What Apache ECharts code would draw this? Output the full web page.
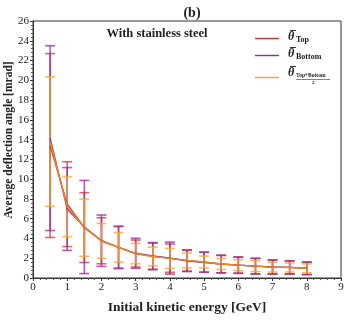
<!DOCTYPE html>
<html>
<head>
<meta charset="utf-8">
<script src="https://cdn.jsdelivr.net/npm/echarts@6/dist/echarts.min.js"></script>
<style>
  html, body { margin: 0; padding: 0; background: #fff; }
  #main { width: 349px; height: 320px; }
</style>
</head>
<body>
<div id="main"></div>
<script>
var energy = [0.5, 1, 1.5, 2, 2.5, 3, 3.5, 4, 4.5, 5, 5.5, 6, 6.5, 7, 7.5, 8]

var topMean = [13.4, 7.47, 5.1, 3.77, 3.1, 2.47, 2.2, 2.01, 1.75, 1.6, 1.42, 1.3, 1.2, 1.12, 1.07, 0.98]
var topErr = [9.3, 4.29, 3.53, 2.33, 2.1, 1.37, 1.33, 1.43, 1.05, 1.0, 0.9, 0.8, 0.78, 0.7, 0.65, 0.62]

var bottomMean = [14.15, 6.98, 5.16, 3.77, 3.1, 2.5, 2.22, 2.01, 1.75, 1.6, 1.4, 1.3, 1.2, 1.1, 1.07, 0.98]
var bottomErr = [9.35, 4.19, 4.71, 2.6, 2.15, 1.52, 1.37, 1.62, 1.1, 1.02, 0.88, 0.84, 0.8, 0.72, 0.68, 0.64]

var avgMean = [13.8, 7.22, 5.09, 3.76, 3.11, 2.47, 2.18, 1.98, 1.78, 1.62, 1.42, 1.3, 1.2, 1.1, 1.06, 0.98]
var avgErr = [6.55, 3.03, 2.89, 1.76, 1.49, 1.03, 0.94, 1.01, 0.75, 0.6, 0.55, 0.55, 0.55, 0.5, 0.45, 0.45]

var serif = 'Liberation Serif'
var cTop = '#d03535'
var cBottom = '#982a98'
var cAvg = '#f7a428'

function pairs (ys) {
  return energy.map(function (x, i) { return [x, ys[i]] })
}
function triples (ys, es) {
  return energy.map(function (x, i) { return [x, ys[i], es[i]] })
}

function errorBars (name, data, color, z) {
  return {
    name: name + ' err',
    type: 'custom',
    z: z,
    data: data,
    renderItem: function (params, api) {
      var x = api.value(0)
      var m = api.value(1)
      var e = api.value(2)
      var hi = api.coord([x, m + e])
      var lo = api.coord([x, m - e])
      var w = 5
      var st = { stroke: color, lineWidth: 1.6, opacity: 0.75 }
      return {
        type: 'group',
        children: [
          { type: 'line', shape: { x1: hi[0], y1: hi[1], x2: lo[0], y2: lo[1] }, style: st },
          { type: 'line', shape: { x1: hi[0] - w, y1: hi[1], x2: hi[0] + w, y2: hi[1] }, style: st },
          { type: 'line', shape: { x1: lo[0] - w, y1: lo[1], x2: lo[0] + w, y2: lo[1] }, style: st }
        ]
      }
    }
  }
}

function meanLine (name, data, color, z) {
  return {
    name: name,
    type: 'line',
    z: z,
    data: data,
    symbol: 'none',
    lineStyle: { color: color, width: 1.4 },
    itemStyle: { color: color }
  }
}

// legend entry: theta with a bar and a subscript
function thetaLabel (x, y, sub) {
  var items = [
    { type: 'text', x: x, y: y, style: { text: 'θ', font: 'italic bold 12px "Liberation Serif"', fill: '#222', textVerticalAlign: 'middle' } },
    { type: 'line', shape: { x1: x + 2, y1: y - 6.5, x2: x + 8, y2: y - 6.5 }, style: { stroke: '#222', lineWidth: 0.9 } }
  ]
  if (sub) {
    items.push({ type: 'text', x: x + 8, y: y + 3, style: { text: sub, font: 'bold 8px "Liberation Serif"', fill: '#222', textVerticalAlign: 'middle' } })
  }
  return items
}

var legendGraphics = [
  { type: 'line', shape: { x1: 255, y1: 38.5, x2: 279, y2: 38.5 }, style: { stroke: cTop, lineWidth: 1.4 } },
  { type: 'line', shape: { x1: 255, y1: 55.5, x2: 279, y2: 55.5 }, style: { stroke: cBottom, lineWidth: 1.4 } },
  { type: 'line', shape: { x1: 255, y1: 77.5, x2: 279, y2: 77.5 }, style: { stroke: cAvg, lineWidth: 1.4 } }
]
  .concat(thetaLabel(288, 37, 'Top'))
  .concat(thetaLabel(288, 54, 'Bottom'))
  .concat(thetaLabel(288, 73, null))
  .concat([
    { type: 'text', x: 296, y: 76, style: { text: 'Top+Bottom', font: 'bold 5.5px "Liberation Serif"', fill: '#222', textVerticalAlign: 'middle' } },
    { type: 'line', shape: { x1: 296, y1: 79.5, x2: 330, y2: 79.5 }, style: { stroke: '#333', lineWidth: 0.6 } },
    { type: 'text', x: 312, y: 82.5, style: { text: '2', font: 'bold 5px "Liberation Serif"', fill: '#222', textVerticalAlign: 'middle' } }
  ])

var myChart = echarts.init(document.getElementById('main'))
var option
option = {
  animation: false,
  title: {
    text: '(b)',
    left: 187,
    textAlign: 'center',
    top: 1,
    textStyle: { fontFamily: serif, fontWeight: 'bold', fontSize: 14, color: '#222' }
  },
  grid: {
    left: 33,
    right: 8,
    top: 21,
    bottom: 32,
    show: true,
    borderColor: '#333',
    borderWidth: 1
  },
  xAxis: {
    type: 'value',
    min: 0,
    max: 9,
    interval: 1,
    name: 'Initial kinetic energy [GeV]',
    nameLocation: 'middle',
    nameGap: 23,
    nameTextStyle: { fontFamily: serif, fontWeight: 'bold', fontSize: 13.5, color: '#222' },
    axisLine: { lineStyle: { color: '#333' } },
    axisTick: { length: 3, lineStyle: { color: '#333' } },
    minorTick: { show: true, splitNumber: 5, length: 2, lineStyle: { color: '#555' } },
    axisLabel: { fontFamily: serif, fontSize: 11, color: '#222', margin: 4 },
    splitLine: { show: false }
  },
  yAxis: {
    type: 'value',
    min: 0,
    max: 26,
    interval: 2,
    axisLine: { show: true, lineStyle: { color: '#333' } },
    axisTick: { show: true, length: 3, lineStyle: { color: '#333' } },
    minorTick: { show: true, splitNumber: 5, length: 2, lineStyle: { color: '#555' } },
    axisLabel: { fontFamily: serif, fontSize: 11, color: '#222', margin: 4 },
    splitLine: { show: false }
  },
  graphic: [
    {
      type: 'text', x: 9, y: 140, rotation: Math.PI / 2,
      style: {
        text: 'Average deflection angle [mrad]',
        font: 'bold 11.5px "Liberation Serif"',
        fill: '#222',
        textAlign: 'center',
        textVerticalAlign: 'middle'
      }
    },
    {
      type: 'text', x: 157, y: 34,
      style: {
        text: 'With stainless steel',
        font: 'bold 12.5px "Liberation Serif"',
        fill: '#222',
        textAlign: 'center',
        textVerticalAlign: 'middle'
      }
    }
  ].concat(legendGraphics),
  series: [
    errorBars('Top', triples(topMean, topErr), cTop, 2),
    errorBars('Bottom', triples(bottomMean, bottomErr), cBottom, 3),
    errorBars('Avg', triples(avgMean, avgErr), cAvg, 4),
    meanLine('Top', pairs(topMean), '#c8402a', 5),
    meanLine('Bottom', pairs(bottomMean), '#8e3aa0', 6),
    meanLine('Avg', pairs(avgMean), '#ee8a1c', 7)
  ]
}
option && myChart.setOption(option)
</script>
</body>
</html>
